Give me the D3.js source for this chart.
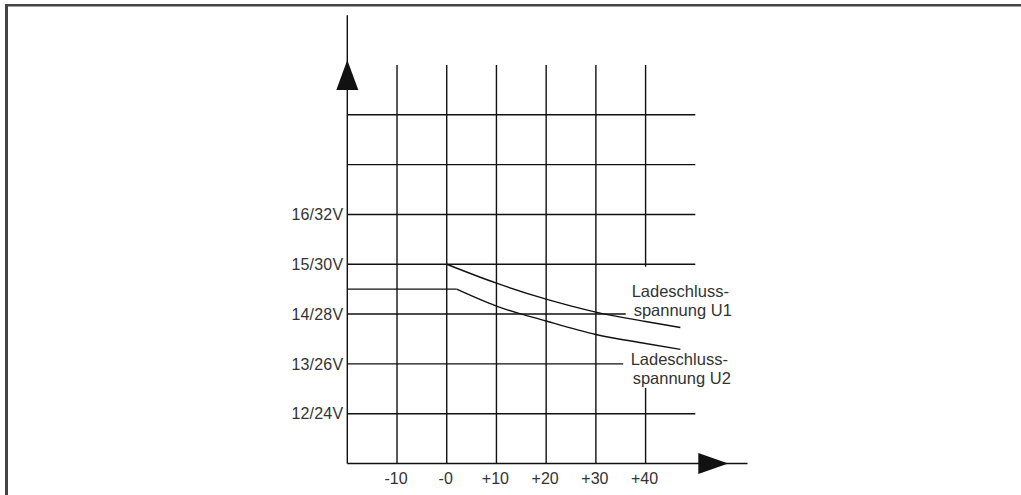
<!DOCTYPE html>
<html>
<head>
<meta charset="utf-8">
<script src="https://cdn.jsdelivr.net/npm/d3@7"></script>
<style>
  body { margin: 0; background: #fff; }
  text { font-family: "Liberation Sans", Arial, sans-serif; font-size: 16px; fill: #333; }
</style>
</head>
<body>
<div id="chart"></div>
<script>
// data
var xTicks = [-10, 0, 10, 20, 30, 40],
    xTickLabels = ["-10", "-0", "+10", "+20", "+30", "+40"];

var yGrid = [12, 13, 14, 15, 16, 17, 18],
    yGridEnd = [50, 35.5, 36, 50, 50, 50, 50],   // 13 and 14 stop at the labels
    yTickValues = [12, 13, 14, 15, 16],
    yTickLabels = ["12/24V", "13/26V", "14/28V", "15/30V", "16/32V"];

var u1Temp = [0, 10, 20, 30, 40, 47],
    u1Volt = [15, 14.62, 14.30, 14.04, 13.85, 13.73];

var u2Temp = [-20, 2, 10, 20, 30, 40, 47],
    u2Volt = [14.5, 14.5, 14.16, 13.86, 13.59, 13.41, 13.29];

var curveLabels = [
    { lines: ["Ladeschluss-", "spannung U1"], t: 37.2, v: 14.34 },
    { lines: ["Ladeschluss-", "spannung U2"], t: 37.0, v: 12.98 }
];
//

var width = 1021,
    height = 495;

var svg = d3.select("#chart").append("svg")
    .attr("width", width)
    .attr("height", height);

//frame round the figure
svg.append("line")
    .attr("x1", 5).attr("x2", width)
    .attr("y1", 5.3).attr("y2", 5.3)
    .style("stroke", "#444")
    .style("stroke-width", 2.5);
svg.append("line")
    .attr("x1", 6.5).attr("x2", 6.5)
    .attr("y1", 4).attr("y2", height)
    .style("stroke", "#444")
    .style("stroke-width", 3);

var x = d3.scaleLinear().domain([-20, 50]).range([347.3, 695.3]),
    y = d3.scaleLinear().domain([11, 19]).range([463.5, 65]);

var g = svg.append("g")
    .style("stroke", "#111")
    .style("stroke-width", 1.4)
    .style("fill", "none");

// horizontal grid
yGrid.forEach(function (v, i) {
    g.append("line")
        .attr("x1", x(-20)).attr("x2", x(yGridEnd[i]))
        .attr("y1", y(v)).attr("y2", y(v));
});

// vertical grid, +40 is broken where the U2 label sits
xTicks.forEach(function (t) {
    if (t == 40) {
        g.append("line")
            .attr("x1", x(t)).attr("x2", x(t))
            .attr("y1", y(19)).attr("y2", y(14.95));
        g.append("line")
            .attr("x1", x(t)).attr("x2", x(t))
            .attr("y1", y(12.52)).attr("y2", y(11));
    } else {
        g.append("line")
            .attr("x1", x(t)).attr("x2", x(t))
            .attr("y1", y(19)).attr("y2", y(11));
    }
});

// axes with arrows
g.append("line")
    .attr("x1", x(-20)).attr("x2", x(-20))
    .attr("y1", y(20)).attr("y2", y(11));
g.append("line")
    .attr("x1", x(-20)).attr("x2", x(60.5))
    .attr("y1", y(11)).attr("y2", y(11));

var ax = x(-20), ay = y(19) - 5;
svg.append("path")
    .attr("d", "M" + ax + "," + ay + "L" + (ax + 11) + "," + (ay + 30) + "L" + (ax - 11) + "," + (ay + 30) + "Z")
    .style("fill", "#111");

var bx = x(50) + 3, by = y(11);
svg.append("path")
    .attr("d", "M" + bx + "," + (by - 10.5) + "L" + (bx + 30) + "," + by + "L" + bx + "," + (by + 10.5) + "Z")
    .style("fill", "#111");

// curves
var line = d3.line()
    .x(function (d) { return x(d[0]); })
    .y(function (d) { return y(d[1]); })
    .curve(d3.curveMonotoneX);

var u2 = d3.zip(u2Temp, u2Volt);

g.append("path").attr("d", line(d3.zip(u1Temp, u1Volt)));
// flat part of U2 straight, the falling part smooth
g.append("path").attr("d", line.curve(d3.curveLinear)(u2.slice(0, 2)));
g.append("path").attr("d", line.curve(d3.curveMonotoneX)(u2.slice(1)));

// tick labels
svg.selectAll(".ylab")
    .data(yTickValues)
    .enter().append("text")
    .attr("class", "ylab")
    .attr("x", x(-20) - 4)
    .attr("y", function (d) { return y(d); })
    .attr("dy", "0.36em")
    .attr("text-anchor", "end")
    .style("letter-spacing", "0.2px")
    .text(function (d, i) { return yTickLabels[i]; });

svg.selectAll(".xlab")
    .data(xTicks)
    .enter().append("text")
    .attr("class", "xlab")
    .attr("x", function (d) { return x(d) - 1; })
    .attr("y", y(11) + 20)
    .attr("text-anchor", "middle")
    .text(function (d, i) { return xTickLabels[i]; });

// curve labels
curveLabels.forEach(function (c) {
    var t = svg.append("text")
        .attr("x", x(c.t))
        .attr("y", y(c.v))
        .style("font-size", "16.5px");
    c.lines.forEach(function (s, i) {
        t.append("tspan")
            .attr("x", x(c.t) + (i == 0 ? 0 : 2))
            .attr("dy", i == 0 ? 0 : 19)
            .text(s);
    });
});
</script>
</body>
</html>
